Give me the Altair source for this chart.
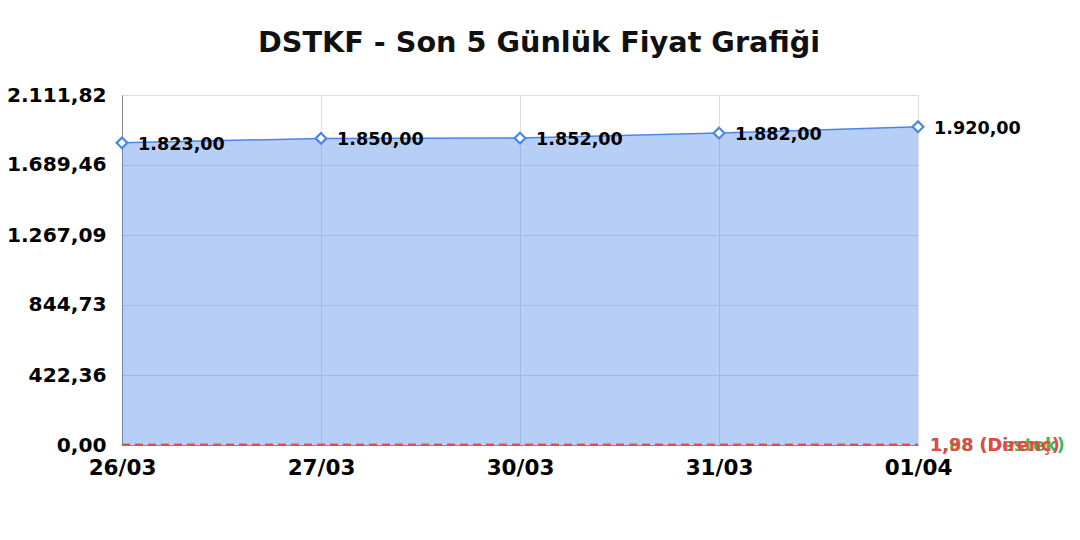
import altair as alt
import pandas as pd

dates = ["26/03", "27/03", "30/03", "31/03", "01/04"]
prices = [1823.00, 1850.00, 1852.00, 1882.00, 1920.00]
y_ticks = [0.0, 422.36, 844.73, 1267.09, 1689.46, 2111.82]
support = 1.88
resistance = 1.98

def tr(v):
    s = f"{v:,.2f}"
    return s.replace(",", "_").replace(".", ",").replace("_", ".")

df = pd.DataFrame({"date": dates, "price": prices, "label": [tr(p) for p in prices]})
lines = pd.DataFrame({
    "date0": [dates[0], dates[0]], "date1": [dates[-1], dates[-1]],
    "val": [support, resistance],
    "label": [tr(support) + " (Destek)", tr(resistance) + " (Direnç)"],
    "kind": ["Destek", "Direnç"],
})

FONT = "DejaVu Sans"
xscale = alt.Scale(type="point", padding=0, domain=dates)
xaxis = alt.Axis(title=None, labelAngle=0, labelFontSize=21.5, labelFontWeight="bold",
                 labelColor="#000000", labelPadding=12, ticks=False,
                 domainColor="#888888", gridColor="#dddddd", grid=True, labelFont=FONT)
xenc = alt.X("date:N", scale=xscale, axis=xaxis)
yscale = alt.Scale(domain=[0, y_ticks[-1]], nice=False, zero=True)
yenc = alt.Y("price:Q", scale=yscale,
             axis=alt.Axis(title=None, values=y_ticks, labelFontSize=20.2, labelFontWeight="bold",
                           labelColor="#000000", labelPadding=16, ticks=False,
                           domainColor="#888888", gridColor="#dddddd", labelFont=FONT,
                           labelExpr="replace(replace(replace(format(datum.value, ',.2f'), ',', '_'), '.', ','), '_', '.')"))

base = alt.Chart(df)
area = base.mark_area(color="#4a86e8", opacity=0.4, line=False).encode(x=xenc, y=yenc)
line = base.mark_line(color="#4a86e8", strokeWidth=1.5).encode(x=xenc, y=yenc)
pts = base.mark_point(shape="diamond", filled=True, fill="white", stroke="#4a86e8",
                      strokeWidth=2.2, size=115, opacity=1).encode(x=xenc, y=yenc)
txt = base.mark_text(align="left", baseline="middle", dx=16, dy=2, fontSize=17.6,
                     fontWeight="bold", font=FONT, color="#000000").encode(
    x=xenc, y=yenc, text="label:N")

cscale = alt.Scale(domain=["Destek", "Direnç"], range=["#3cba54", "#e8474a"])
lbase = alt.Chart(lines)
rules = lbase.mark_rule(strokeDash=[8, 5], strokeWidth=2).encode(
    x=alt.X("date0:N", scale=xscale, axis=xaxis),
    x2="date1:N",
    y=alt.Y("val:Q", scale=yscale),
    color=alt.Color("kind:N", scale=cscale, legend=None),
)
ltxt = lbase.mark_text(align="left", baseline="middle", dx=12, dy=1, fontSize=17.6,
                       fontWeight="bold", font=FONT).encode(
    x=alt.X("date1:N", scale=xscale, axis=xaxis),
    y=alt.Y("val:Q", scale=yscale),
    text="label:N",
    color=alt.Color("kind:N", scale=cscale, legend=None),
)

chart = alt.layer(area, line, rules, pts, txt, ltxt).properties(
    width=796, height=350,
    title=alt.TitleParams("DSTKF - Son 5 Günlük Fiyat Grafiği", fontSize=28.7, fontWeight="bold",
                          font=FONT, color="#111111", anchor="middle", dx=19, offset=27),
    autosize=alt.AutoSizeParams(type="none"),
    padding={"left": 114, "top": 87, "right": 154, "bottom": 87},
).configure_view(stroke=None).configure(background="white")

chart.save("out.html", embed_options={"renderer": "svg", "actions": False})
